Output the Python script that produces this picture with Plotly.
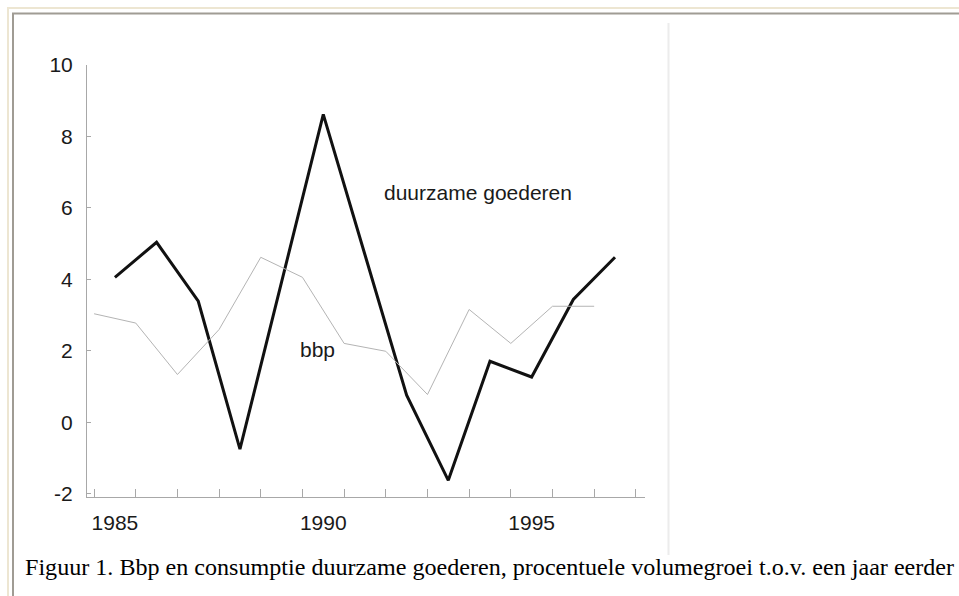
import plotly.graph_objects as go

# ---- data ----
years = [1985, 1986, 1987, 1988, 1989, 1990, 1991, 1992, 1993, 1994, 1995, 1996, 1997]
duurzame = [4.06, 5.04, 3.39, -0.75, 3.93, 8.62, 4.69, 0.76, -1.62, 1.71, 1.27, 3.44, 4.62]
bbp_years = [1985, 1986, 1987, 1988, 1989, 1990, 1991, 1992, 1993, 1994, 1995, 1996, 1997]
bbp = [3.04, 2.78, 1.34, 2.60, 4.62, 4.06, 2.21, 1.99, 0.78, 3.16, 2.21, 3.25, 3.25]
x_labels = [1985, 1990, 1995]
y_ticks = [-2, 0, 2, 4, 6, 8, 10]
y_ticktext = ["-2", "0", "2", "4", "6", "8", "10"]
caption = "Figuur 1. Bbp en consumptie duurzame goederen, procentuele volumegroei t.o.v. een jaar eerder"

W, H = 959, 596
ML, MR, MT, MB = 87, 314, 65, 99
PW, PH = W - ML - MR, H - MT - MB

def px(x):
    return (x - ML) / PW

def py(y):
    return 1 - (y - MT) / PH

xr = [1984.33, 1997.72]
yr = [-2.087, 10]

fig = go.Figure()
fig.add_trace(go.Scatter(x=bbp_years, y=bbp, mode="lines", xaxis="x2",
                         line=dict(color="#b4b4b4", width=1), hoverinfo="skip"))
fig.add_trace(go.Scatter(x=years, y=duurzame, mode="lines",
                         line=dict(color="#111111", width=3), hoverinfo="skip"))

axis_col = "#a8a8a8"
fig.update_layout(
    width=W, height=H,
    margin=dict(l=ML, r=MR, t=MT, b=MB, pad=0),
    paper_bgcolor="white", plot_bgcolor="white",
    showlegend=False,
    font=dict(family="Liberation Sans, Arial", size=21, color="#1a1a1a"),
    xaxis=dict(range=xr, showgrid=False, zeroline=False,
               showline=True, linecolor=axis_col, linewidth=1,
               tickmode="array", tickvals=x_labels, ticktext=[str(v) for v in x_labels],
               ticks="", ticklen=0, ticklabelstandoff=7,
               minor=dict(ticks="inside", tick0=1984.5, dtick=1, ticklen=8,
                          tickcolor=axis_col, tickwidth=1, showgrid=False)),
    xaxis2=dict(range=[xr[0] + 0.5, xr[1] + 0.5], overlaying="x", visible=False),
    yaxis=dict(range=yr, showgrid=False, zeroline=False,
               showline=True, linecolor=axis_col, linewidth=1,
               tickmode="array", tickvals=y_ticks, ticktext=y_ticktext,
               ticks="inside", ticklen=4, tickcolor=axis_col,
               ticklabelstandoff=9),
)

fig.add_annotation(x=1991.41, y=6.42, text="duurzame goederen", showarrow=False,
                   xanchor="left", yanchor="middle", font=dict(size=21))
fig.add_annotation(x=1989.40, y=2.03, text="bbp", showarrow=False,
                   xanchor="left", yanchor="middle", font=dict(size=21))
fig.add_annotation(x=px(23), y=py(567), xref="paper", yref="paper", text=caption,
                   showarrow=False, xanchor="left", yanchor="middle",
                   font=dict(family="Liberation Serif, Times New Roman", size=24.1, color="#000000"))

# page frame decorations
shapes = [
    dict(type="line", x0=px(7), x1=px(959), y0=py(8), y1=py(8), line=dict(color="#ede6d2", width=2)),
    dict(type="line", x0=px(8), x1=px(8), y0=py(7), y1=py(596), line=dict(color="#ede6d2", width=2)),
    dict(type="line", x0=px(12), x1=px(959), y0=py(13.5), y1=py(13.5), line=dict(color="#a09c94", width=2)),
    dict(type="line", x0=px(13), x1=px(13), y0=py(13), y1=py(596), line=dict(color="#a09c94", width=2)),
    dict(type="line", x0=px(668.5), x1=px(668.5), y0=py(23), y1=py(555), line=dict(color="#ececec", width=2)),
]
for s in shapes:
    s.update(xref="paper", yref="paper", layer="below")
fig.update_layout(shapes=shapes)

fig.write_html("out.html", config={"displayModeBar": False},
               post_script="document.body.style.margin='0';")
